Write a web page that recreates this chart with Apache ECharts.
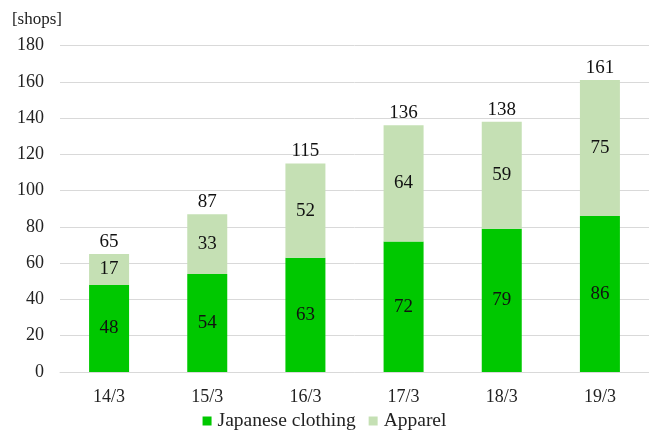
<!DOCTYPE html>
<html>
<head>
<meta charset="utf-8">
<script src="https://cdn.jsdelivr.net/npm/echarts@6/dist/echarts.min.js"></script>
<style>
  html, body { margin: 0; padding: 0; background: #fff; }
  #chart { width: 649px; height: 430px; }
</style>
</head>
<body>
<div id="chart"></div>
<script>
const categories = ["14/3", "15/3", "16/3", "17/3", "18/3", "19/3"];
const japaneseClothing = [48, 54, 63, 72, 79, 86];
const apparel = [17, 33, 52, 64, 59, 75];
const totals = [65, 87, 115, 136, 138, 161];

const FONT = "Liberation Serif";

let myChart = echarts.init(document.querySelector("#chart"));
const option = {
    animation: false,
    textStyle: { fontFamily: FONT },
    grid: { left: 60, right: -4, top: 45.5, bottom: 58 },
    legend: {
        data: ["Japanese clothing", "Apparel"],
        top: 406,
        left: "center",
        itemWidth: 9,
        itemHeight: 9,
        itemGap: 13,
        icon: "rect",
        textStyle: { fontFamily: FONT, fontSize: 19.5, color: "#222", padding: [0, 0, 0, 1] },
    },
    xAxis: {
        type: "category",
        data: categories,
        axisTick: { show: false },
        axisLine: { lineStyle: { color: "#d9d9d9" } },
        axisLabel: { fontFamily: FONT, fontSize: 18, color: "#222", margin: 16 },
    },
    yAxis: {
        type: "value",
        min: 0,
        max: 180,
        interval: 20,
        name: "[shops]",
        nameLocation: "end",
        nameGap: 17,
        nameTextStyle: { fontFamily: FONT, fontSize: 17, color: "#222", align: "right", padding: [0, -2, 0, 0] },
        axisLabel: { fontFamily: FONT, fontSize: 18, color: "#222", margin: 16 },
        splitLine: { lineStyle: { color: "#d9d9d9" } },
    },
    series: [
        {
            name: "Japanese clothing",
            type: "bar",
            stack: "total",
            barWidth: 40,
            data: japaneseClothing,
            itemStyle: { color: "#00c800" },
            label: { show: true, position: "inside", fontFamily: FONT, fontSize: 19, color: "#111" },
        },
        {
            name: "Apparel",
            type: "bar",
            stack: "total",
            barWidth: 40,
            data: apparel,
            itemStyle: { color: "#c5e0b4" },
            label: { show: true, position: "inside", fontFamily: FONT, fontSize: 19, color: "#111" },
        },
        {
            name: "Total",
            type: "line",
            data: totals,
            symbol: "circle",
            symbolSize: 1,
            itemStyle: { color: "rgba(0,0,0,0)" },
            lineStyle: { opacity: 0 },
            label: { show: true, position: "top", distance: 2, fontFamily: FONT, fontSize: 19, color: "#111" },
        },
    ],
};
myChart.setOption(option);
</script>
</body>
</html>
